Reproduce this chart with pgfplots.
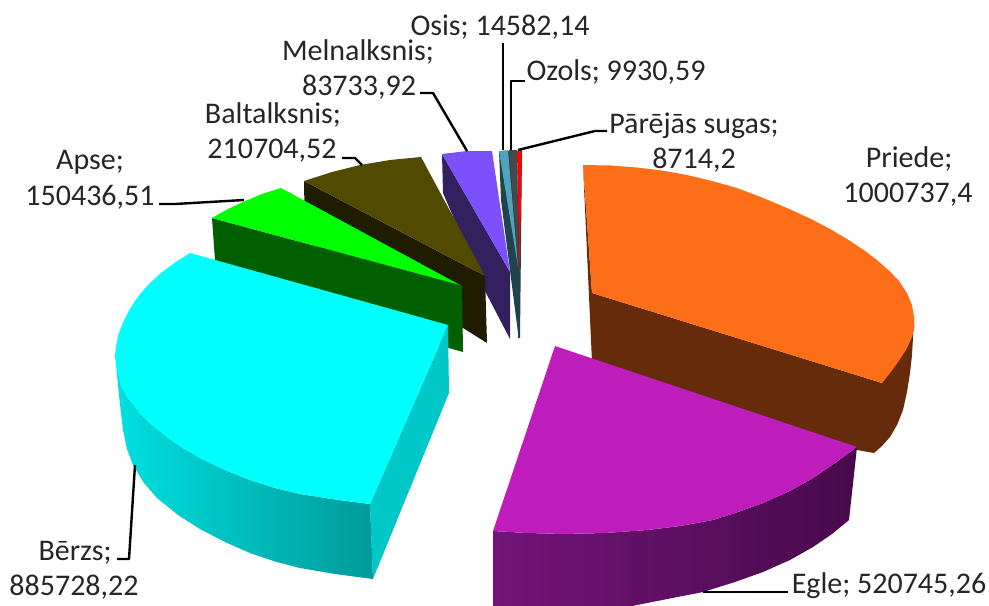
\documentclass[border=0pt]{standalone}
\usepackage{pgfplots}
\pgfplotsset{compat=1.18}
\usepackage{fontspec}
\setmainfont{Carlito}
\definecolor{txt}{HTML}{262626}
\definecolor{orTop}{HTML}{FD6E19}
\definecolor{orSide}{HTML}{652B0B}
\definecolor{maTop}{HTML}{BF1CBC}
\definecolor{maL}{HTML}{721478}
\definecolor{maR}{HTML}{480A4C}
\definecolor{cyTop}{HTML}{00FFFF}
\definecolor{cyR}{HTML}{00C8C8}
\definecolor{cyA}{HTML}{00E0E0}
\definecolor{cyB}{HTML}{009A9A}
\definecolor{grTop}{HTML}{00FF00}
\definecolor{grSide}{HTML}{006000}
\definecolor{olTop}{HTML}{524A00}
\definecolor{olSide}{HTML}{1F1C00}
\definecolor{viTop}{HTML}{7C50FB}
\definecolor{viSide}{HTML}{33205F}
\definecolor{teTop}{HTML}{4FA4BB}
\definecolor{teSide}{HTML}{20424D}
\definecolor{ozTop}{HTML}{45484C}
\definecolor{reTop}{HTML}{FF0000}
\tikzset{lbl/.style={font=\fontsize{15}{16}\selectfont,text=txt,anchor=base,inner sep=0pt,outer sep=0pt},
  lead/.style={draw=black,line width=1.2pt,fill=none}}
\begin{document}
\begin{tikzpicture}
\begin{axis}[scale only axis,width=494.5pt,height=302.5pt,xmin=0,xmax=989,ymin=0,ymax=605,y dir=reverse,hide axis,
  clip=true,every axis plot/.append style={draw=none,no markers,line join=round}]
\path[use as bounding box] (axis cs:0,0) rectangle (axis cs:989,605);
% small slices
\addplot[fill=teSide] coordinates {(518,150)(522,150)(520,338)(518,338)};
\addplot[fill=reTop] coordinates {(517,151)(522,151)(519.5,273)};
\addplot[fill=teSide] coordinates {(499,151)(501,200)(518,333)(519,267)(517,151)};
\addplot[fill=ozTop] coordinates {(509,150)(517,150)(518.5,267)};
\addplot[fill=teTop] coordinates {(499,151)(508,150)(518,267)};
% Melnalksnis
\addplot[fill=viSide] coordinates {(442,154)(443,193)(486,293)(510,339)(510,272)};
\addplot[fill=viTop] coordinates {(442,154)(467,151)(492,151)(510,272)};
% Baltalksnis
\addplot[fill=olSide] coordinates {(304,181)(305,240)(463,328)(487,343)(485,276)};
\addplot[fill=olTop] coordinates {(304,181)(332,172)(360,165)(390,160)(421,157)(485,276)};
% Apse
\addplot[fill=grSide] coordinates {(212,218)(215,260)(449,348)(463,352)(462,285)(460,285)};
\addplot[fill=grTop] coordinates {(212,218)(226,210)(243,202)(262,194)(281,188)(460,285)};
% Berzs
\addplot[fill=cyR] coordinates {(370,504)(448,325)(449,393)(373,579)};
\addplot[left color=cyA,right color=cyB] coordinates {(115,350)(117,375)(119.5,400)(123,430)(127,449)(133,465)(144,483)(157,498)(178,515)(200,529)(225,542)(250,553)(275,561.5)(300,568)(335,574)(373,579)(370,504)(335,499.5)(300,494)(275,488)(250,480)(225,470)(200,458)(183,448)(167,437)(152,425)(140,413)(128,398)(120,383)};
\addplot[fill=cyTop] coordinates {(190,253)(175,262.5)(161,273)(148.5,284.5)(138,296.5)(129.5,309.5)(123,322.5)(118,336)(115.5,350)(115.5,359)(117,371)(120,383)(128,398)(140,413)(152,425)(167,437)(183,448)(200,458)(225,470)(250,480)(275,488)(300,494)(335,499.5)(370,504)(448,325)};
% Priede
\addplot[fill=orSide] coordinates {(583,165)(592,293)(882,383)(914,317)(913,337)(912,355)(910,373)(907,392)(903,410)(897,425)(890,437)(882,446)(874,453)(857,450)(592,362)};
\addplot[fill=orTop] coordinates {(583,165)(610,165.5)(637,167.5)(662,170.5)(687,175)(712,181)(737,188)(762,197.5)(787,208)(810,218.5)(830,229)(847,239)(863,249.5)(877,260)(890,271.5)(899,281)(907,293)(912,305)(914,317)(914.5,327)(912,337)(906,350)(898,362)(890,373)(882,383)(592,293)};
% Egle
\addplot[left color=maL,right color=maR] coordinates {(493,531)(493,610)(613,610)(647,603)(703,592)(735,582)(763,572)(790,560)(813,547)(832,534)(849,520)(857,447)(835,463)(813,478)(790,491)(763,503)(738,512)(713,520)(680,526)(647,530)(605,533)(563,534)(528,533)};
\addplot[fill=maTop] coordinates {(555,346)(857,447)(835,463)(813,478)(790,491)(763,503)(738,512)(713,520)(680,526)(647,530)(605,533)(563,534)(528,533)(493,531)};
% leader lines
\addplot[lead] coordinates {(503,43)(503,150)};
\addplot[lead] coordinates {(525,81)(511,81)(511,150)};
\addplot[lead] coordinates {(607,131)(595,131)(518,150)};
\addplot[lead] coordinates {(420,93)(433,93)(467,151)};
\addplot[lead] coordinates {(342,158)(355,158)(362,165)};
\addplot[lead] coordinates {(159,204)(175,204)(244,200)};
\addplot[lead] coordinates {(117,559)(129,559)(135,465)};
\addplot[lead] coordinates {(788,592)(703,592)};
% labels
\node[lbl] at (axis cs:500,35) {Osis; 14582,14};
\node[lbl] at (axis cs:616,80) {Ozols; 9930,59};
\node[lbl] at (axis cs:358,60) {Melnalksnis;};
\node[lbl] at (axis cs:359,95) {83733,92};
\node[lbl] at (axis cs:694,133) {Pārējās sugas;};
\node[lbl] at (axis cs:694,168) {8714,2};
\node[lbl] at (axis cs:909,167) {Priede;};
\node[lbl] at (axis cs:908,202) {1000737,4};
\node[lbl] at (axis cs:273,123) {Baltalksnis;};
\node[lbl] at (axis cs:272,158) {210704,52};
\node[lbl] at (axis cs:90,169) {Apse;};
\node[lbl] at (axis cs:90,205) {150436,51};
\node[lbl] at (axis cs:75,560) {Bērzs;};
\node[lbl] at (axis cs:74,595) {885728,22};
\node[lbl] at (axis cs:889,593) {Egle; 520745,26};
\end{axis}
\end{tikzpicture}
\end{document}
